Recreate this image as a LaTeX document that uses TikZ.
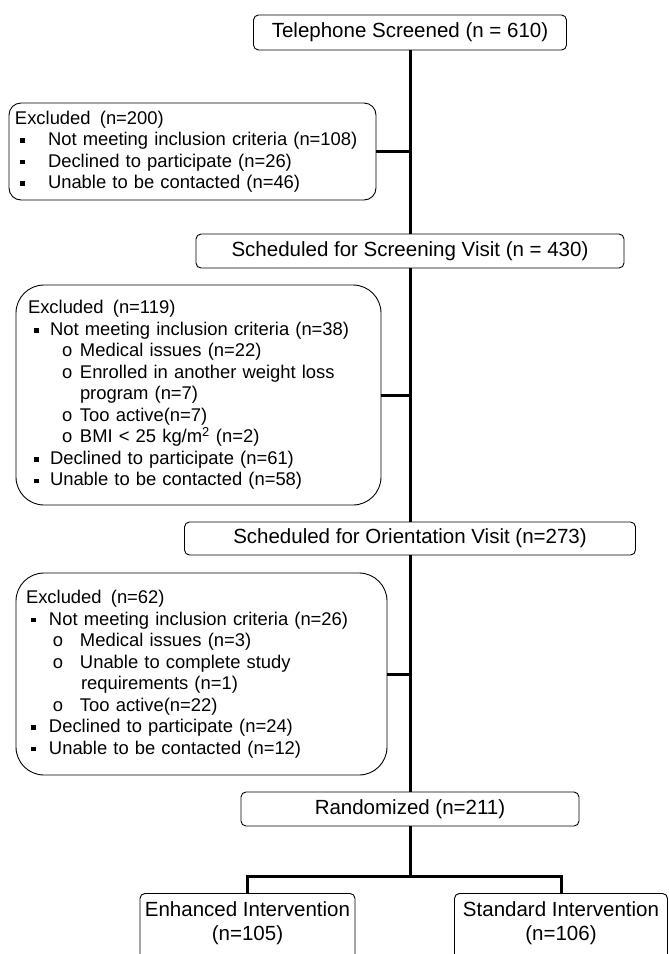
\documentclass[tikz,border=0pt]{standalone}
\usepackage{fontspec}
\setmainfont{Liberation Sans}

\newcommand{\sqbul}{\raisebox{2.6pt}{\rule{4.5pt}{4.5pt}}}
\newcommand{\bitem}[3]{\hspace*{#1}\makebox[#2][l]{\sqbul}#3}
\newcommand{\oitem}[3]{\hspace*{#1}\makebox[#2][l]{o}#3}

\tikzset{
  mainbox/.style={draw, rounded corners=5pt, line width=0.9pt, inner sep=0pt,
    font=\fontsize{20.5}{24}\selectfont},
  exclbox/.style={draw, line width=0.9pt, align=left, inner ysep=0pt,
    font=\fontsize{18.4}{21.5}\selectfont},
  conn/.style={line width=3pt}
}

\begin{document}
\begin{tikzpicture}[x=1pt, y=-1pt]
    \useasboundingbox (0,0) rectangle (669,954);
    \clip (0,0) rectangle (669,954);

    \node[mainbox, minimum width=313pt, minimum height=35pt] at (410, 32.5) (tel) {Telephone Screened (n = 610)};
    \node[mainbox, minimum width=428pt, minimum height=34pt] at (410, 251) (scr) {Scheduled for Screening Visit (n = 430)};
    \node[mainbox, minimum width=451pt, minimum height=33pt] at (410, 538.5) (ori) {Scheduled for Orientation Visit (n=273)};
    \node[mainbox, minimum width=338pt, minimum height=34pt] at (410, 809) (rand) {Randomized (n=211)};
    \node[mainbox, align=center, anchor=north, minimum width=215pt, inner ysep=8.5pt, text depth=25pt] at (247.5, 893) (enh) {Enhanced Intervention\\(n=105)};
    \node[mainbox, align=center, anchor=north, minimum width=213pt, inner ysep=8.5pt, text depth=25pt] at (561, 893) (std) {Standard Intervention\\(n=106)};

    \node[exclbox, rounded corners=12pt, inner xsep=6pt, text width=355pt, minimum height=97pt] at (192.5, 151.5) (ex1) {%
      Excluded\enspace(n=200)\\
      \bitem{5pt}{28pt}{Not meeting inclusion criteria (n=108)}\\
      \bitem{5pt}{28pt}{Declined to participate (n=26)}\\
      \bitem{5pt}{28pt}{Unable to be contacted (n=46)}};
    \node[exclbox, rounded corners=28pt, inner xsep=12pt, text width=341pt, minimum height=220pt] at (198.5, 395) (ex2) {%
      Excluded\enspace(n=119)\\
      \bitem{6pt}{16pt}{Not meeting inclusion criteria (n=38)}\\
      \oitem{34pt}{18pt}{Medical issues (n=22)}\\
      \oitem{34pt}{18pt}{Enrolled in another weight loss}\\
      \hspace*{52pt}program (n=7)\\
      \oitem{34pt}{18pt}{Too active(n=7)}\\
      \oitem{34pt}{18pt}{BMI < 25 kg/m\textsuperscript{2} (n=2)}\\
      \bitem{6pt}{16pt}{Declined to participate (n=61)}\\
      \bitem{6pt}{16pt}{Unable to be contacted (n=58)}};
    \node[exclbox, rounded corners=28pt, inner xsep=10pt, text width=351pt, minimum height=202pt] at (201.5, 674) (ex3) {%
      Excluded\enspace(n=62)\\
      \bitem{5pt}{18pt}{Not meeting inclusion criteria (n=26)}\\
      \oitem{27pt}{27pt}{Medical issues (n=3)}\\
      \oitem{27pt}{27pt}{Unable to complete study}\\
      \hspace*{55pt}requirements (n=1)\\
      \oitem{27pt}{27pt}{Too active(n=22)}\\
      \bitem{5pt}{18pt}{Declined to participate (n=24)}\\
      \bitem{5pt}{18pt}{Unable to be contacted (n=12)}};

    \coordinate (split) at (410, 876);

    \draw[conn] (tel) -- (scr);
    \draw[conn] (scr) -- (ori);
    \draw[conn] (ori) -- (rand);
    \draw[conn] (ex1) -- (ex1 -| tel.south);
    \draw[conn] (ex2) -- (ex2 -| scr.south);
    \draw[conn] (ex3) -- (ex3 -| ori.south);
    \draw[conn] (rand) -- (split);
    \draw[conn] (enh.north) |- (split) -| (std.north);
\end{tikzpicture}
\end{document}
